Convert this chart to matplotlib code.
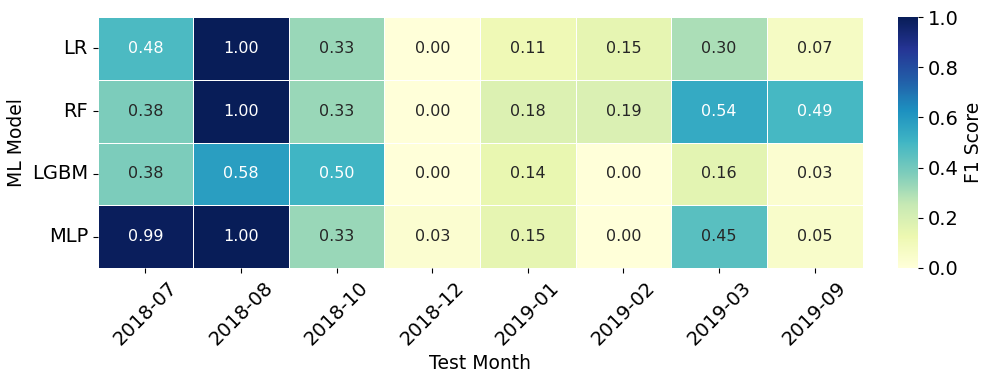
import numpy as np
import pandas as pd
import matplotlib
matplotlib.use("Agg")
import matplotlib.pyplot as plt
import seaborn as sns

models = ["LR", "RF", "LGBM", "MLP"]
months = ["2018-07", "2018-08", "2018-10", "2018-12",
          "2019-01", "2019-02", "2019-03", "2019-09"]
f1_lr = [0.48, 1.00, 0.33, 0.00, 0.11, 0.15, 0.30, 0.07]
f1_rf = [0.38, 1.00, 0.33, 0.00, 0.18, 0.19, 0.54, 0.49]
f1_lgbm = [0.38, 0.58, 0.50, 0.00, 0.14, 0.00, 0.16, 0.03]
f1_mlp = [0.99, 1.00, 0.33, 0.03, 0.15, 0.00, 0.45, 0.05]

df = pd.DataFrame([f1_lr, f1_rf, f1_lgbm, f1_mlp], index=models, columns=months)

fig = plt.figure(figsize=(9.96, 3.8), dpi=100)
ax = fig.add_axes([0.098, 0.295, 0.768, 0.66])
cax = fig.add_axes([0.902, 0.295, 0.02, 0.66])

sns.heatmap(df, ax=ax, cbar_ax=cax, cmap="YlGnBu", vmin=0, vmax=1,
            annot=True, fmt=".2f", annot_kws={"size": 11.5},
            linewidths=0.5, linecolor="white",
            cbar_kws={"label": "F1 Score"})

ax.set_xlabel("Test Month", fontsize=13.5)
ax.set_ylabel("ML Model", fontsize=13.5)
ax.tick_params(axis="x", labelsize=14, rotation=45)
ax.tick_params(axis="y", labelsize=14, rotation=0)
for lbl in ax.get_xticklabels():
    lbl.set_ha("center")
cax.tick_params(labelsize=14)
cax.yaxis.label.set_size(13.5)

fig.savefig("out.png", dpi=100)
